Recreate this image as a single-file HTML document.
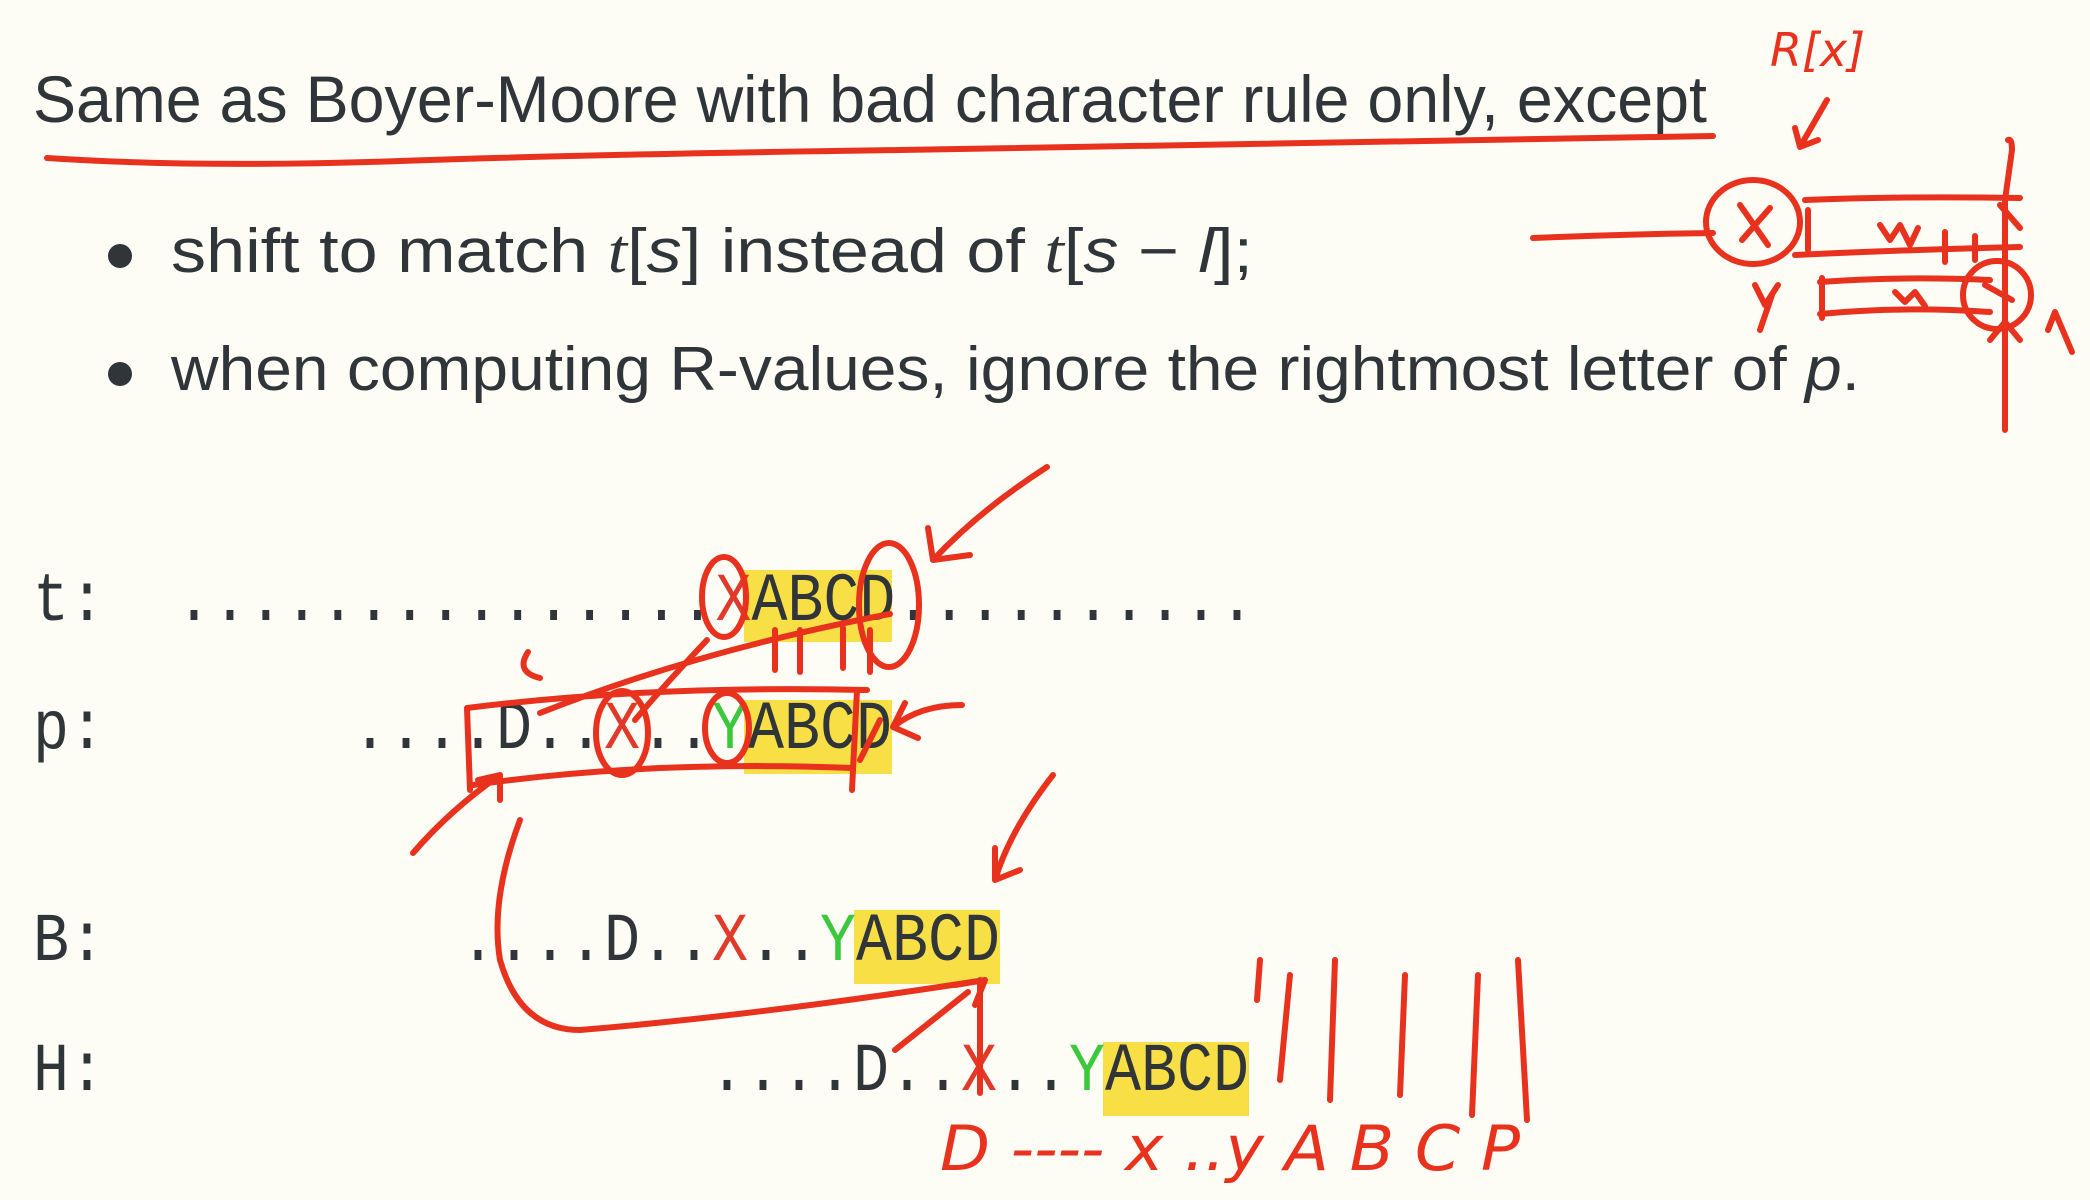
<!DOCTYPE html>
<html><head><meta charset="utf-8"><style>
html,body{margin:0;padding:0;background:#fdfdf6;}
svg{display:block;}
</style></head><body>
<svg width="2090" height="1200" viewBox="0 0 2090 1200" xmlns="http://www.w3.org/2000/svg">
<rect width="2090" height="1200" fill="#fdfdf6"/>
<g font-family="'Liberation Sans', sans-serif" fill="#30353a">
<text x="33" y="122" font-size="66" textLength="1674" lengthAdjust="spacingAndGlyphs">Same as Boyer-Moore with bad character rule only, except</text>
<circle cx="120" cy="256" r="12"/>
<circle cx="120" cy="374" r="12"/>
<text x="171" y="272" font-size="62" textLength="1082" lengthAdjust="spacingAndGlyphs">shift to match <tspan font-style="italic" font-family="'Liberation Serif',serif">t</tspan>[<tspan font-style="italic">s</tspan>] instead of <tspan font-style="italic" font-family="'Liberation Serif',serif">t</tspan>[<tspan font-style="italic">s</tspan> − <tspan font-style="italic">l</tspan>];</text>
<text x="171" y="390" font-size="62" textLength="1689" lengthAdjust="spacingAndGlyphs">when computing R-values, ignore the rightmost letter of <tspan font-style="italic">p</tspan>.</text>
</g>
<g fill="#f7df45">
<rect x="744" y="570" width="148" height="72"/>
<rect x="744" y="700" width="148" height="74"/>
<rect x="854" y="910" width="146" height="74"/>
<rect x="1103" y="1042" width="146" height="74"/>
</g>
<g font-family="'Liberation Mono', monospace" font-size="60" fill="#30353a">
<g transform="translate(0,620) scale(1,1.15)">
<text x="33" y="0" textLength="72" lengthAdjust="spacingAndGlyphs">t:</text>
<text x="176" y="0" textLength="1079" lengthAdjust="spacingAndGlyphs">...............<tspan fill="#e03a2a">X</tspan>ABCD..........</text>
</g>
<g transform="translate(0,748) scale(1,1.15)">
<text x="33" y="0" textLength="72" lengthAdjust="spacingAndGlyphs">p:</text>
<text x="352" y="0" textLength="540" lengthAdjust="spacingAndGlyphs">....D..<tspan fill="#e03a2a">X</tspan>..<tspan fill="#3cc83c">Y</tspan>ABCD</text>
</g>
<g transform="translate(0,960) scale(1,1.15)">
<text x="33" y="0" textLength="72" lengthAdjust="spacingAndGlyphs">B:</text>
<text x="460" y="0" textLength="540" lengthAdjust="spacingAndGlyphs">....D..<tspan fill="#e03a2a">X</tspan>..<tspan fill="#3cc83c">Y</tspan>ABCD</text>
</g>
<g transform="translate(0,1090) scale(1,1.15)">
<text x="33" y="0" textLength="72" lengthAdjust="spacingAndGlyphs">H:</text>
<text x="709" y="0" textLength="540" lengthAdjust="spacingAndGlyphs">....D..<tspan fill="#e03a2a">X</tspan>..<tspan fill="#3cc83c">Y</tspan>ABCD</text>
</g>
</g>
<g fill="none" stroke="#e8321e" stroke-width="6" stroke-linecap="round" stroke-linejoin="round">
<path d="M47 158 Q200 168 400 161 T900 150 T1713 136"/>
<path d="M1827 100 L1800 147 M1795 128 L1800 147 L1818 140"/>
<path d="M1533 238 Q1630 234 1713 233"/>
<ellipse cx="1753" cy="222" rx="47" ry="42"/>
<path d="M1740 205 L1768 245 M1770 208 L1742 240"/>
<path d="M1805 200 Q1900 196 2020 198 M1795 255 Q1900 250 2020 247 M1808 210 L1808 250"/>
<path d="M1880 225 L1890 240 L1900 225 L1910 245 L1918 228 M1945 232 L1945 262 M1975 236 L1975 260"/>
<path d="M1820 282 Q1900 276 1990 280 M1820 314 Q1900 306 1990 312 M1822 278 L1822 318"/>
<path d="M1895 292 L1905 302 L1915 292 L1925 306"/>
<path d="M1755 285 L1765 305 L1778 285 M1772 295 L1760 330"/>
<circle cx="1997" cy="295" r="34"/>
<path d="M2008 140 Q2012 138 2012 150 L2005 200 L2005 430 M1990 340 L2005 322 L2020 340"/>
<path d="M2000 205 L2020 228 M1985 285 L2012 300"/>
<path d="M2048 330 L2055 312 L2072 352"/>
<path d="M1047 467 Q980 510 933 560 M928 528 L933 560 L970 555"/>
<ellipse cx="724" cy="597" rx="22" ry="40"/>
<ellipse cx="889" cy="605" rx="30" ry="62"/>
<path d="M540 713 Q700 650 890 614"/>
<path d="M707 640 Q660 690 635 720"/>
<path d="M775 630 L775 670 M800 630 L800 672 M843 628 L843 668 M870 630 L870 672"/>
<path d="M467 708 Q650 685 867 690 M473 785 Q650 760 853 768 M467 708 L470 790 M857 690 L852 790"/>
<ellipse cx="622" cy="733" rx="26" ry="42"/>
<ellipse cx="727" cy="728" rx="22" ry="35"/>
<path d="M880 720 L860 760"/>
<path d="M962 705 Q920 705 893 727 M905 703 L893 727 L918 738"/>
<path d="M528 652 Q515 672 540 678"/>
<path d="M413 853 Q450 810 500 775 M478 780 L500 775 L500 800"/>
<path d="M520 820 Q490 900 500 960 Q520 1030 580 1030 Q760 1015 985 980 M955 985 L985 980 L975 1005"/>
<path d="M980 1093 L980 980 M895 1050 L968 992"/>
<path d="M1053 775 Q1010 830 995 880 M995 848 L995 880 L1020 870"/>
<path d="M1260 960 L1257 1000 M1290 975 L1280 1080 M1335 960 L1330 1100 M1405 975 L1400 1095 M1478 975 L1472 1115 M1518 960 L1527 1120"/>
</g>
<g font-family="'DejaVu Sans', sans-serif" fill="#e8321e" font-style="italic">
<text x="1770" y="66" font-size="46">R[x]</text>
<text x="940" y="1170" font-size="62" textLength="580" lengthAdjust="spacingAndGlyphs">D ---- x ..y  A  B  C  P</text>
</g>
</svg>
</body></html>
